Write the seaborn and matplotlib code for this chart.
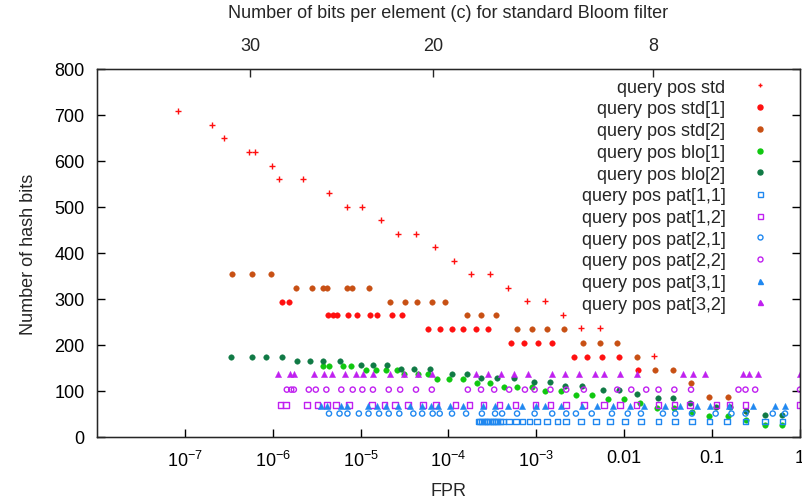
import numpy as np
import pandas as pd
import matplotlib
matplotlib.use("Agg")
import matplotlib.pyplot as plt
import seaborn as sns
from matplotlib.lines import Line2D
from matplotlib.ticker import FixedLocator, NullLocator

# ---------------- data (log10 of FPR, number of hash bits) ----------------
std_lfpr = [-7.08, -6.69, -6.56, -6.27, -6.20, -6.01, -5.93, -5.66, -5.36, -5.16,
            -4.98, -4.77, -4.58, -4.37, -4.15, -3.94, -3.74, -3.53, -3.32, -3.11,
            -2.90, -2.70, -2.49, -2.28, -1.66]
std_bits = [708, 679, 649, 620, 620, 590, 560, 560, 531, 501,
            501, 472, 442, 442, 413, 383, 354, 354, 324, 295,
            295, 265, 236, 236, 177]

std1_lfpr = [-5.89, -5.82,
             -5.37, -5.32, -5.27, -5.14, -5.04, -4.89, -4.81, -4.64, -4.53,
             -4.23, -4.10, -3.96, -3.83, -3.69, -3.55,
             -3.29, -3.14, -2.98, -2.82,
             -2.57, -2.42, -2.25, -2.06,
             -1.84]
std1_bits = [294, 294,
             265, 265, 265, 265, 265, 265, 265, 265, 265,
             235, 235, 235, 235, 235, 235,
             205, 205, 205, 205,
             175, 175, 175, 175,
             146]

std2_lfpr = [-6.46, -6.24, -6.02,
             -5.73, -5.55, -5.43, -5.38, -5.16, -5.10, -4.91,
             -4.67, -4.50, -4.36, -4.19, -4.04,
             -3.79, -3.63, -3.46,
             -3.22, -3.05, -2.88, -2.68,
             -2.47, -2.28, -2.08,
             -1.86, -1.65, -1.45, -1.24, -1.03, -0.82, -0.62]
std2_bits = [354, 354, 354,
             324, 324, 324, 324, 324, 324, 324,
             294, 294, 294, 294, 294,
             265, 265, 265,
             235, 235, 235, 235,
             205, 205, 205,
             175, 146, 146, 117, 87, 87, 57]

blo1_lfpr = [-5.43, -5.36, -5.20, -5.11,
             -4.94, -4.83, -4.71, -4.59,
             -4.51, -4.35, -4.23,
             -4.13, -3.99, -3.83,
             -3.68, -3.53,
             -3.37, -3.22, -3.05,
             -2.90, -2.72,
             -2.55, -2.37,
             -2.19, -2.00,
             -1.82, -1.63, -1.43, -1.23, -1.03, -0.82, -0.62, -0.40, -0.20]
blo1_bits = [154, 154, 154, 154,
             145, 145, 145, 145,
             136, 136, 136,
             127, 127, 127,
             117, 117,
             109, 109, 109,
             100, 100,
             91, 91,
             82, 82,
             73, 64, 64, 54, 46, 46, 36, 27, 27]

blo2_lfpr = [-6.47, -6.24, -6.08, -5.89,
             -5.72, -5.58, -5.43, -5.23,
             -5.00, -4.86, -4.70,
             -4.54, -4.39, -4.21,
             -3.96, -3.79,
             -3.63, -3.45, -3.26,
             -3.03, -2.85,
             -2.67, -2.48,
             -2.24, -2.06,
             -1.86, -1.62, -1.44, -1.25, -0.96, -0.80, -0.62, -0.40, -0.20]
blo2_bits = [174, 174, 174, 174,
             165, 165, 165, 165,
             156, 156, 156,
             148, 148, 148,
             138, 138,
             129, 129, 129,
             120, 120,
             111, 111,
             102, 102,
             93, 84, 84, 75, 66, 66, 57, 48, 48]

pat11_lfpr = [-3.66, -3.64, -3.62, -3.59, -3.57, -3.55, -3.53, -3.50, -3.48, -3.46,
              -3.44, -3.41, -3.38, -3.31, -3.23, -3.16, -3.08, -2.99, -2.88, -2.76,
              -2.66, -2.49, -2.32, -2.16, -1.99, -1.81, -1.61, -1.42, -1.23, -1.03,
              -0.83, -0.62, -0.40, -0.20]
pat11_bits = 34

pat12_lfpr = [-5.91, -5.85, -5.61, -5.49, -5.38, -5.28, -5.13, -4.87, -4.73, -4.61,
              -4.46, -4.29, -4.14, -3.92, -3.76, -3.60, -3.42, -3.24, -3.01, -2.84,
              -2.66, -2.46, -2.23, -2.05, -1.86, -1.61, -1.43, -1.25, -0.95, -0.80,
              -0.62, 0.00]
pat12_bits = 70

pat21_lfpr = [-5.36, -5.24, -5.15, -5.02, -4.91, -4.79, -4.68, -4.56, -4.40, -4.30,
              -4.18, -4.10, -3.96, -3.80, -3.62, -3.47, -3.39, -3.22, -3.02, -2.82,
              -2.66, -2.55, -2.37, -2.14, -1.96, -1.81, -1.56, -1.42, -1.23, -0.96,
              -0.78, -0.62, -0.31, -0.17]
pat21_bits = 51

pat22_lfpr = [-5.84, -5.79, -5.76, -5.59, -5.51, -5.39, -5.22, -5.09, -4.98, -4.86,
              -4.68, -4.55, -4.37, -4.19, -3.78, -3.63, -3.48, -3.31, -3.13, -3.02,
              -2.84, -2.66, -2.46, -2.08, -1.92, -1.75, -1.61, -1.43, -1.24, -0.70,
              -0.62, -0.51, 0.00]
pat22_bits = 103

pat31_lfpr = [-5.45, -5.38, -5.22, -5.16, -4.92, -4.81, -4.71, -4.58, -4.44, -4.30,
              -4.20, -4.12, -3.98, -3.84, -3.61, -3.47, -3.32, -3.16, -3.00, -2.90,
              -2.72, -2.48, -2.31, -2.13, -1.94, -1.77, -1.54, -1.36, -1.17, -1.02,
              -0.81, -0.54, -0.29, -0.17]
pat31_bits = 67

pat32_lfpr = [-5.94, -5.80, -5.76, -5.53, -5.42, -5.33, -5.18, -5.05, -4.97, -4.86,
              -4.67, -4.51, -4.35, -4.19, -3.69, -3.55, -3.40, -3.25, -3.09, -2.82,
              -2.67, -2.51, -2.33, -2.23, -2.05, -1.86, -1.33, -1.22, -1.08, -0.65,
              -0.58, -0.48, 0.00]
pat32_bits = 136

labels = ["query pos std", "query pos std[1]", "query pos std[2]",
          "query pos blo[1]", "query pos blo[2]",
          "query pos pat[1,1]", "query pos pat[1,2]",
          "query pos pat[2,1]", "query pos pat[2,2]",
          "query pos pat[3,1]", "query pos pat[3,2]"]

# top axis: bits per element c for a standard Bloom filter
top_c = [30, 20, 8]

bottom_ticks = [1e-7, 1e-6, 1e-5, 1e-4, 1e-3, 0.01, 0.1, 1]
bottom_labels = [r"$10^{-7}$", r"$10^{-6}$", r"$10^{-5}$", r"$10^{-4}$",
                 r"$10^{-3}$", "0.01", "0.1", "1"]
y_ticks = [0, 100, 200, 300, 400, 500, 600, 700, 800]

# ---------------- style ----------------
sns.set_style("ticks")
plt.rcParams["font.family"] = ["Liberation Sans", "DejaVu Sans"]
plt.rcParams["mathtext.fontset"] = "custom"
plt.rcParams["mathtext.rm"] = "Liberation Sans"
plt.rcParams["mathtext.it"] = "Liberation Sans:italic"
plt.rcParams["mathtext.bf"] = "Liberation Sans:bold"
FS = 13

RED = "#ff1010"
BROWN = "#c85014"
GREEN = "#10c810"
DGREEN = "#107a45"
BLUE = "#2088f0"
PURPLE = "#c020f0"

series = [
    (std_lfpr, std_bits, RED, "+", 18, True),
    (std1_lfpr, std1_bits, RED, "o", 16, True),
    (std2_lfpr, std2_bits, BROWN, "o", 16, True),
    (blo1_lfpr, blo1_bits, GREEN, "o", 16, True),
    (blo2_lfpr, blo2_bits, DGREEN, "o", 16, True),
    (pat11_lfpr, pat11_bits, BLUE, "s", 16, False),
    (pat12_lfpr, pat12_bits, PURPLE, "s", 16, False),
    (pat21_lfpr, pat21_bits, BLUE, "o", 14, False),
    (pat22_lfpr, pat22_bits, PURPLE, "o", 14, False),
    (pat31_lfpr, pat31_bits, BLUE, "^", 20, True),
    (pat32_lfpr, pat32_bits, PURPLE, "^", 20, True),
]

fig = plt.figure(figsize=(8.03, 5.02), dpi=100)
ax = fig.add_axes([97 / 803, 64 / 502, 703 / 803, 368 / 502])

handles = []
for (lf, bits, col, mk, size, filled), lab in zip(series, labels):
    df = pd.DataFrame({"FPR": np.power(10.0, np.array(lf))})
    df["bits"] = bits
    if mk == "+":
        sns.scatterplot(data=df, x="FPR", y="bits", marker="+", s=size,
                        color=col, edgecolor=col, linewidth=1.0, ax=ax, legend=False)
        handles.append(Line2D([], [], ls="none", marker="+", color=col, ms=3.2, mew=1.0))
    elif filled:
        sns.scatterplot(data=df, x="FPR", y="bits", marker=mk, s=size,
                        color=col, edgecolor=col, linewidth=0.3, ax=ax, legend=False)
        handles.append(Line2D([], [], ls="none", marker=mk, color=col, mec=col, ms=3.6))
    else:
        sns.scatterplot(data=df, x="FPR", y="bits", marker=mk, s=size,
                        color=col, facecolor="none", edgecolor=col, linewidth=1.0,
                        ax=ax, legend=False)
        handles.append(Line2D([], [], ls="none", marker=mk, color=col, mfc="none",
                              mec=col, ms=3.6, mew=1.0))

ax.set_xscale("log")
ax.set_xlim(1e-8, 1)
ax.set_ylim(0, 800)
ax.xaxis.set_major_locator(FixedLocator(bottom_ticks))
ax.xaxis.set_minor_locator(NullLocator())
ax.set_xticklabels(bottom_labels)
ax.set_yticks(y_ticks)
ax.tick_params(axis="both", which="major", direction="in", length=6, width=1,
               labelsize=FS, colors="black", top=False, right=True)
ax.tick_params(axis="x", pad=9)
ax.tick_params(axis="y", pad=9)
ax.set_xlabel("FPR", fontsize=FS, labelpad=9)
ax.set_ylabel("Number of hash bits", fontsize=FS, labelpad=12)
for sp in ax.spines.values():
    sp.set_visible(True)
    sp.set_color("black")
    sp.set_linewidth(1.0)

# top axis
ax2 = ax.twiny()
ax2.set_xscale("log")
ax2.set_xlim(ax.get_xlim())
c_arr = np.array(top_c, dtype=float)
ax2.xaxis.set_major_locator(FixedLocator(np.power(0.5 ** np.log(2), c_arr)))
ax2.xaxis.set_minor_locator(NullLocator())
ax2.set_xticklabels([str(c) for c in top_c])
ax2.tick_params(axis="x", which="major", direction="in", length=6, width=1,
                labelsize=FS, pad=11)
ax2.set_xlabel("Number of bits per element (c) for standard Bloom filter",
               fontsize=FS, labelpad=14)

leg = ax.legend(handles, labels, loc="upper right", bbox_to_anchor=(0.9787, 0.993),
                frameon=False, markerfirst=False, fontsize=FS, labelspacing=0.26,
                handlelength=2.0, handletextpad=0.9, borderaxespad=0.0,
                borderpad=0.4)

fig.savefig("out.png", dpi=100)
